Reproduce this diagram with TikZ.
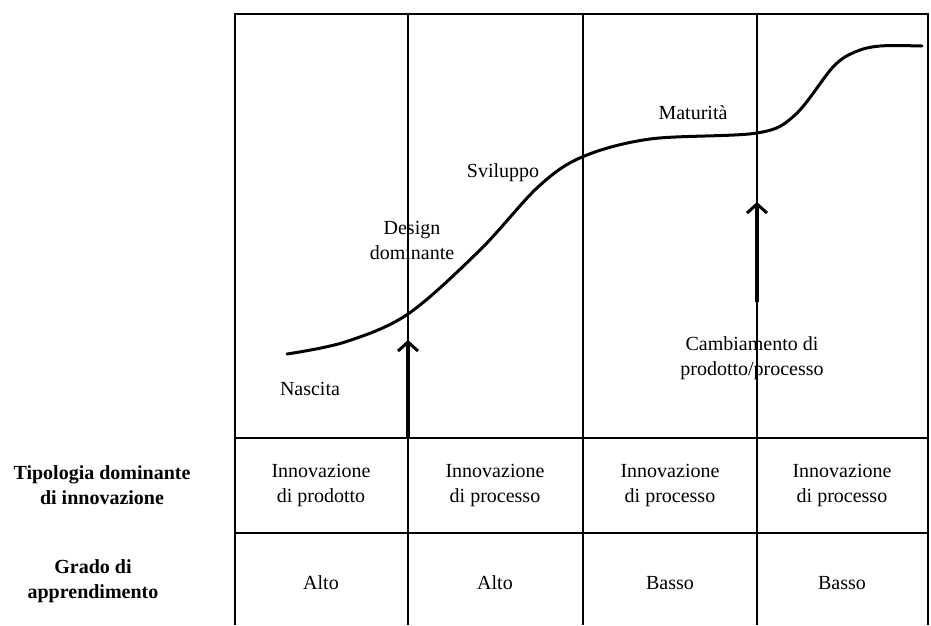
\documentclass[tikz,border=0pt]{standalone}
\usepackage{fontspec}
\setmainfont{Liberation Serif}
\usetikzlibrary{arrows.meta}
\begin{document}
\begin{tikzpicture}[x=1pt,y=-1pt,
  gridline/.style={line width=1.7pt,black},
  curveline/.style={line width=3pt,black,line cap=round,line join=round},
  bigarrow/.style={line width=4.2pt,-{Straight Barb[length=9pt,width=20pt,line width=3pt]}},
  lbl/.style={font=\fontsize{20}{25}\selectfont,align=center,inner sep=0pt},
  sidelbl/.style={font=\fontsize{20}{25}\selectfont\bfseries,align=center,inner sep=0pt}]
\useasboundingbox (0,0) rectangle (931,625);
% grid
\draw[gridline] (235,625) -- (235,14) -- (928,14) -- (928,625);
\draw[gridline] (408,14) -- (408,625);
\draw[gridline] (583,14) -- (583,625);
\draw[gridline] (757,14) -- (757,625);
\draw[gridline] (235,438) -- (928,438);
\draw[gridline] (235,533) -- (928,533);
% curve
\draw[curveline] plot[smooth,tension=0.55] coordinates {(287,354) (345,342) (408,314) (480,250) (538,187) (582,157) (650,139) (757,133) (795,115) (833,67) (855,52) (880,46) (922,46)};
% arrows
\coordinate (a1s) at (408,438);
\coordinate (a1e) at (408,340);
\coordinate (a2s) at (757,302);
\coordinate (a2e) at (757,202);
\draw[bigarrow] (a1s) -- (a1e);
\draw[bigarrow] (a2s) -- (a2e);
% labels
\node[lbl] (nascita) at (310,389) {Nascita};
\node[lbl] (design) at (412,240) {Design\\dominante};
\node[lbl] (sviluppo) at (503,173) {Sviluppo};
\node[lbl] (maturita) at (693,113) {Maturità};
\node[lbl] (cambio) at (752,358) {Cambiamento di\\prodotto/processo};
% table row 1
\node[lbl] (r1c1) at (321,485) {Innovazione\\di prodotto};
\node[lbl] (r1c2) at (495,485) {Innovazione\\di processo};
\node[lbl] (r1c3) at (670,485) {Innovazione\\di processo};
\node[lbl] (r1c4) at (842,485) {Innovazione\\di processo};
% table row 2
\node[lbl] (r2c1) at (321,583) {Alto};
\node[lbl] (r2c2) at (495,583) {Alto};
\node[lbl] (r2c3) at (670,583) {Basso};
\node[lbl] (r2c4) at (842,583) {Basso};
% side labels
\node[sidelbl] (tipo) at (102,485) {Tipologia dominante\\di innovazione};
\node[sidelbl] (grado) at (93,581) {Grado di\\apprendimento};
\end{tikzpicture}
\end{document}
